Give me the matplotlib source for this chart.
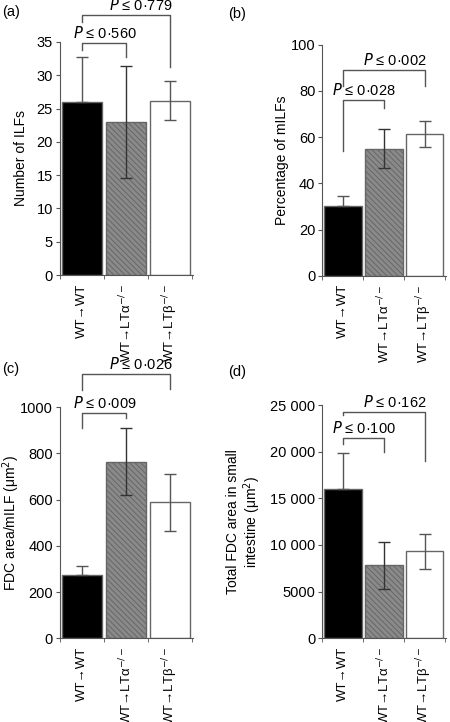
import numpy as np
import matplotlib
matplotlib.use("Agg")
import matplotlib.pyplot as plt
from matplotlib.ticker import FixedLocator

plt.rcParams['font.family'] = ['Liberation Sans', 'DejaVu Sans']
plt.rcParams['hatch.linewidth'] = 0.7
plt.rcParams['hatch.color'] = '#444444'

groups = ['WT\u2192WT', 'WT\u2192LT\u03b1$^{-/-}$', 'WT\u2192LT\u03b2$^{-/-}$']

# (a) number of ILFs
ilf_mean = [26.0, 23.0, 26.2]
ilf_err = [6.7, 8.4, 2.9]
# (b) percentage of mILFs
milf_mean = [30.0, 55.0, 61.3]
milf_err = [4.5, 8.5, 5.7]
# (c) FDC area per mILF
fdc_mean = [275, 765, 588]
fdc_err = [37, 145, 123]
# (d) total FDC area
tot_mean = [16000, 7800, 9300]
tot_err = [3900, 2500, 1850]

# brackets: (i, j, y_bar, y_left, y_right, label)
br_a = [(0, 1, 34.85, 33.8, 32.7, '0\u00b7560'), (0, 2, 39.05, 38.0, 31.3, '0\u00b7779')]
br_b = [(0, 1, 76, 54, 72.5, '0\u00b7028'), (0, 2, 89, 82, 82, '0\u00b7002')]
br_c = [(0, 1, 974, 909, 952, '0\u00b7009'), (0, 2, 1143, 1074, 1078, '0\u00b7026')]
br_d = [(0, 1, 21460, 20800, 20000, '0\u00b7100'), (0, 2, 24250, 23900, 19000, '0\u00b7162')]

fig = plt.figure(figsize=(4.5, 7.22), dpi=100)
ax_a = fig.add_axes([0.133, 0.619, 0.296, 0.323])
ax_b = fig.add_axes([0.716, 0.618, 0.275, 0.320])
ax_c = fig.add_axes([0.133, 0.116, 0.296, 0.320])
ax_d = fig.add_axes([0.716, 0.116, 0.275, 0.323])

line_col = '#555555'


def draw(ax, mean, err, ylim, ticks, ticklabels, ylabel, label_x, brackets):
    x = np.arange(3)
    faces = ['black', '#8a8a8a', 'white']
    hatches = [None, '\\\\\\\\\\\\', None]
    for i in range(3):
        ax.bar(x[i], mean[i], width=0.92, color=faces[i], edgecolor='#666666',
               linewidth=1.0, hatch=hatches[i], zorder=2)
        lower = 0 if i == 0 else err[i]
        ax.errorbar(x[i], mean[i], yerr=[[lower], [err[i]]], fmt='none',
                    ecolor='#333333' if i == 1 else line_col,
                    elinewidth=1.0, capsize=4, capthick=1.0, zorder=3)
    ax.set_xlim(-0.5, 2.52)
    ax.set_ylim(*ylim)
    ax.set_yticks(ticks)
    ax.set_yticklabels(ticklabels, fontsize=10.5)
    ax.set_xticks(x)
    ax.set_xticklabels(groups, rotation=90, fontsize=9.5)
    ax.tick_params(axis='x', length=0, pad=6)
    ax.xaxis.set_minor_locator(FixedLocator([-0.5, 0.5, 1.5, 2.5]))
    ax.tick_params(axis='x', which='minor', length=3, color=line_col)
    ax.tick_params(axis='y', length=3, color=line_col, pad=2)
    for s in ['top', 'right']:
        ax.spines[s].set_visible(False)
    for s in ['left', 'bottom']:
        ax.spines[s].set_color(line_col)
    ax.set_ylabel(ylabel, fontsize=10, linespacing=1.1)
    ax.yaxis.set_label_coords(label_x, 0.5)
    span = ylim[1] - ylim[0]
    for i, j, yb, yl, yr, lab in brackets:
        ax.plot([i, i, j, j], [yl, yb, yb, yr], color=line_col, lw=1.0,
                clip_on=False, zorder=4)
        if j == 1:
            ax.text((i + j) / 2 + 0.02, yb + span * 0.008, '$P$ \u2264 ' + lab,
                    ha='center', va='bottom', fontsize=10.5)
        else:
            ax.text(j + 0.05, yb + span * 0.008, '$P$ \u2264 ' + lab,
                    ha='right', va='bottom', fontsize=10.5)


draw(ax_a, ilf_mean, ilf_err, (0, 35), np.arange(0, 36, 5),
     [str(v) for v in range(0, 36, 5)], 'Number of ILFs', -0.24, br_a)
draw(ax_b, milf_mean, milf_err, (0, 100), np.arange(0, 101, 20),
     [str(v) for v in range(0, 101, 20)], 'Percentage of mILFs', -0.27, br_b)
draw(ax_c, fdc_mean, fdc_err, (0, 1000), np.arange(0, 1001, 200),
     [str(v) for v in range(0, 1001, 200)], 'FDC area/mILF (\u03bcm$^2$)', -0.285, br_c)
draw(ax_d, tot_mean, tot_err, (0, 25000), np.arange(0, 25001, 5000),
     ['0', '5000', '10 000', '15 000', '20 000', '25 000'],
     'Total FDC area in small\nintestine (\u03bcm$^2$)', -0.48, br_d)

fig.text(2 / 450, 1 - 12 / 722, '(a)', fontsize=10.5, va='center')
fig.text(228 / 450, 1 - 14 / 722, '(b)', fontsize=10.5, va='center')
fig.text(2 / 450, 1 - 369 / 722, '(c)', fontsize=10.5, va='center')
fig.text(228 / 450, 1 - 372 / 722, '(d)', fontsize=10.5, va='center')

fig.savefig('out.png', dpi=100)
